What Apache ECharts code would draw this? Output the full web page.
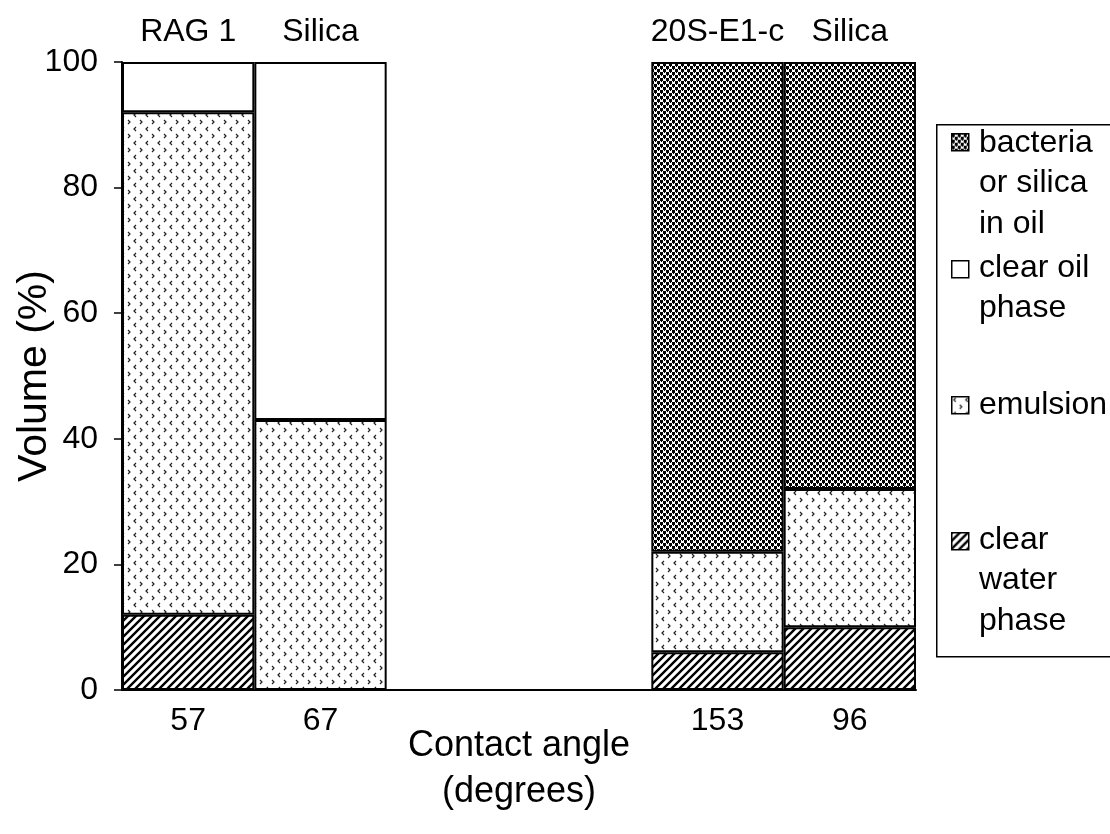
<!DOCTYPE html>
<html>
<head>
<meta charset="utf-8">
<script src="https://cdn.jsdelivr.net/npm/echarts@6/dist/echarts.min.js"></script>
<style>
html,body{margin:0;padding:0;background:#fff;}
#chart{width:1110px;height:834px;}
</style>
</head>
<body>
<div id="chart"></div>
<script>
// ---- data ----
const categories = ['57', '67', '', '', '153', '96'];
const topLabels = ['RAG 1', 'Silica', '', '', '20S-E1-c', 'Silica'];
const waterValues = [12, 0, null, null, 6, 10];
const emulsionValues = [80, 43, null, null, 16, 22];
const clearOilValues = [8, 57, null, null, null, null];
const bacteriaValues = [null, null, null, null, 78, 68];
const seriesNames = ['clear water phase', 'emulsion', 'clear oil phase', 'bacteria or silica in oil'];
const legendLabels = ['bacteria\nor silica\nin oil', 'clear oil\nphase', 'emulsion', 'clear\nwater\nphase'];
const yMin = 0, yMax = 100, yInterval = 20;
const xAxisTitle = 'Contact angle\n(degrees)';
const yAxisTitle = 'Volume (%)';

// ---- patterns ----
function tile(w, h, draw) {
  const c = document.createElement('canvas');
  c.width = w; c.height = h;
  const ctx = c.getContext('2d');
  ctx.fillStyle = '#fff';
  ctx.fillRect(0, 0, w, h);
  draw(ctx);
  return { image: c, repeat: 'repeat' };
}
const hatch = tile(8, 8, ctx => {
  ctx.strokeStyle = '#000';
  ctx.lineWidth = 2.4;
  ctx.beginPath();
  ctx.moveTo(-2, 10); ctx.lineTo(10, -2);
  ctx.moveTo(-6, 6); ctx.lineTo(6, -6);
  ctx.moveTo(2, 14); ctx.lineTo(14, 2);
  ctx.stroke();
});
const dots = tile(12, 14, ctx => {
  ctx.strokeStyle = '#222';
  ctx.lineWidth = 1.2;
  ctx.beginPath();
  ctx.moveTo(4, 1); ctx.lineTo(2, 3); ctx.lineTo(4, 5);
  ctx.moveTo(8, 8); ctx.lineTo(10, 10); ctx.lineTo(8, 12);
  ctx.stroke();
});
const speckle = tile(6, 6, ctx => {
  ctx.fillStyle = '#000';
  ctx.fillRect(0, 0, 3, 3);
  ctx.fillRect(3, 3, 3, 3);
  ctx.fillRect(1, 3, 1, 1);
  ctx.fillRect(4, 0, 1, 1);
});
const fills = [hatch, dots, '#ffffff', speckle];

const FONT = "'Liberation Sans', Arial, sans-serif";
const dataSets = [waterValues, emulsionValues, clearOilValues, bacteriaValues];

const series = dataSets.map((d, i) => ({
  name: seriesNames[i],
  type: 'bar',
  stack: 'vol',
  xAxisIndex: 0,
  barCategoryGap: '0%',
  data: d,
  itemStyle: { color: fills[i], borderColor: '#000', borderWidth: 2 },
  emphasis: { disabled: true },
  animation: false
}));

// ---- legend (drawn as graphic) ----
const legendItems = [
  { idx: 3, iconY: 133, textCenter: 143 },
  { idx: 2, iconY: 260, textCenter: 268 },
  { idx: 1, iconY: 396, textCenter: 405 },
  { idx: 0, iconY: 532, textCenter: 540 }
];
const LH = 40.5;
const graphic = [{
  type: 'rect', left: 936, top: 124,
  shape: { width: 200, height: 532 },
  style: { fill: '#fff', stroke: '#000', lineWidth: 1.5 }, z: 1
}];
legendItems.forEach((it, k) => {
  graphic.push({
    type: 'rect', left: 951, top: it.iconY,
    shape: { width: 17, height: 17 },
    style: { fill: fills[it.idx], stroke: '#000', lineWidth: 1.5 }, z: 2
  });
  graphic.push({
    type: 'text', left: 979, top: it.textCenter - LH / 2,
    style: {
      text: legendLabels[k], fill: '#000', font: '32px ' + FONT,
      lineHeight: LH, textVerticalAlign: 'top'
    }, z: 2
  });
});

const chart = echarts.init(document.getElementById('chart'), null, { renderer: 'canvas' });
chart.setOption({
  animation: false,
  backgroundColor: '#fff',
  textStyle: { fontFamily: FONT, color: '#000' },
  grid: { left: 122, right: 194, top: 62, bottom: 144, containLabel: false, outerBoundsMode: 'none' },
  xAxis: [{
    type: 'category',
    data: categories,
    position: 'bottom',
    axisLine: { show: true, lineStyle: { color: '#000', width: 2 } },
    axisTick: { show: false },
    axisLabel: { fontSize: 32, color: '#000', margin: 15, fontFamily: FONT, interval: 0 },
    name: xAxisTitle,
    nameLocation: 'middle',
    nameGap: 33,
    nameMoveOverlap: false,
    nameTextStyle: { fontSize: 36, color: '#000', lineHeight: 46, fontFamily: FONT },
    splitLine: { show: false }
  }, {
    type: 'category',
    data: topLabels,
    position: 'top',
    axisLine: { show: false },
    axisTick: { show: false },
    axisLabel: { fontSize: 32, color: '#000', margin: 14, fontFamily: FONT, interval: 0 },
    splitLine: { show: false }
  }],
  yAxis: {
    type: 'value',
    min: yMin, max: yMax, interval: yInterval,
    axisLine: { show: true, lineStyle: { color: '#000', width: 2 } },
    axisTick: { show: true, length: 8, lineStyle: { color: '#000', width: 1.5 } },
    axisLabel: { fontSize: 32, color: '#000', margin: 24, fontFamily: FONT },
    splitLine: { show: false },
    name: yAxisTitle,
    nameLocation: 'middle',
    nameGap: 67,
    nameMoveOverlap: false,
    nameRotate: 90,
    nameTextStyle: { fontSize: 41, color: '#000', fontFamily: FONT }
  },
  series: series,
  graphic: graphic
});
</script>
</body>
</html>
